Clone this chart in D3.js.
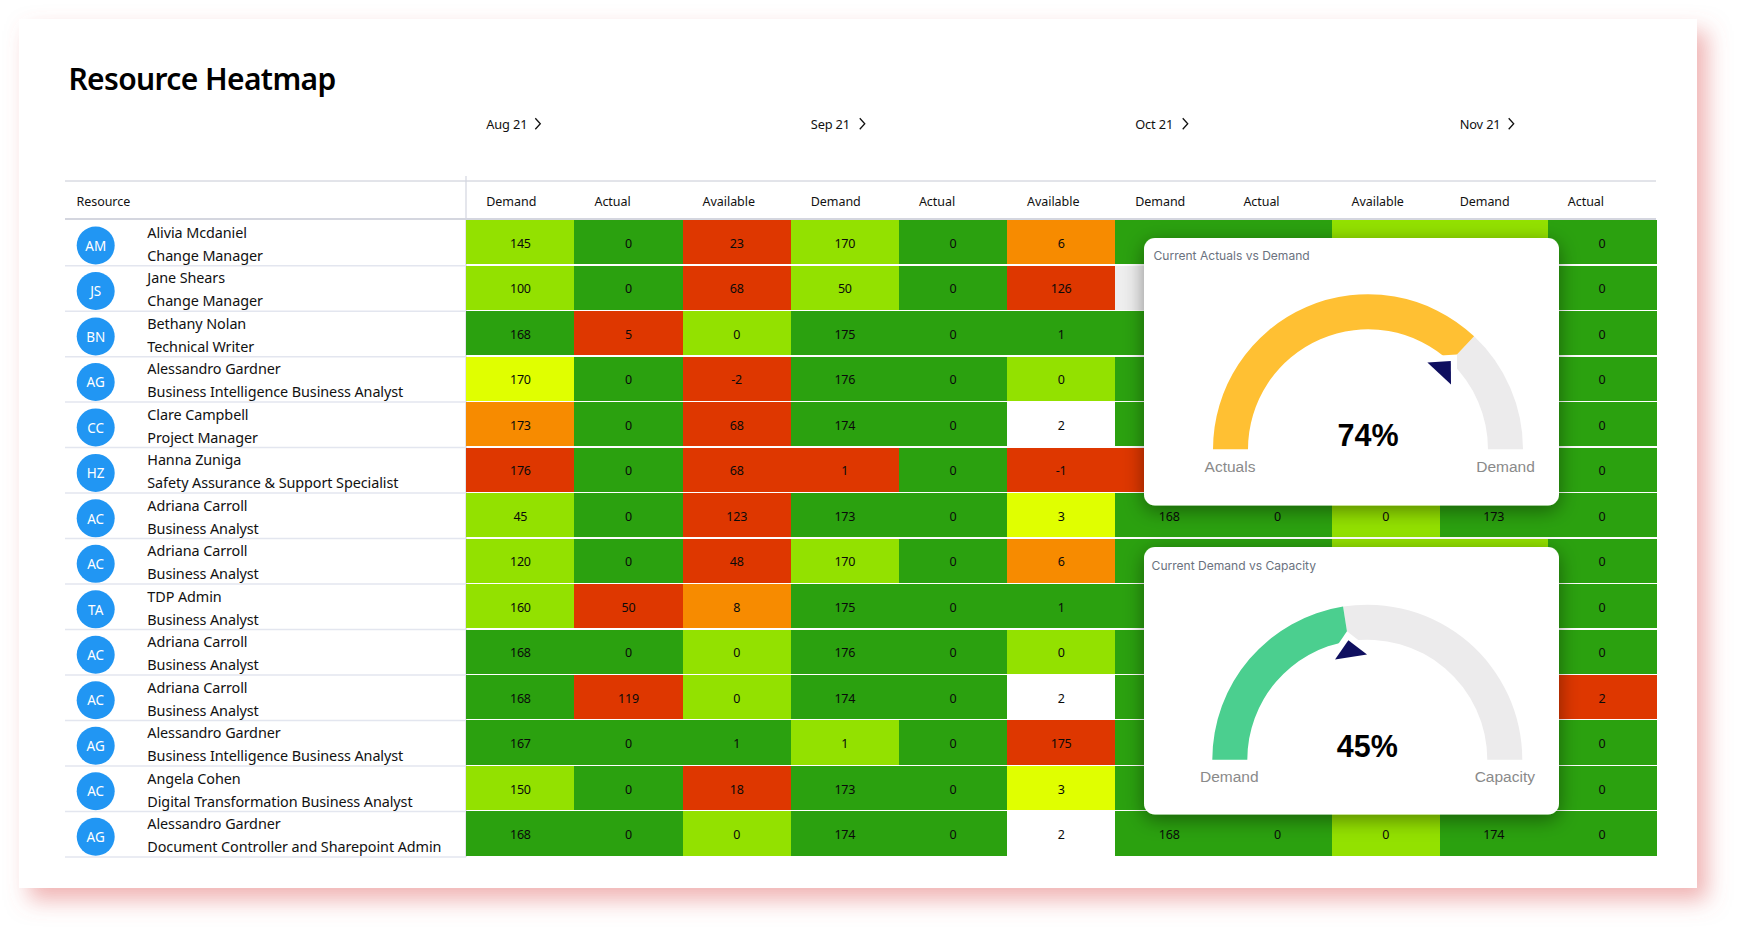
<!DOCTYPE html>
<html><head><meta charset="utf-8">
<script src="https://cdnjs.cloudflare.com/ajax/libs/d3/7.8.5/d3.min.js"></script>
<style>
html,body{margin:0;padding:0;background:#fff;overflow:hidden}
svg{display:block}
text{font-family:"Noto Sans",sans-serif;fill:#111}
.g text{font-family:"Liberation Sans",Arial,sans-serif}
</style></head><body>
<svg id="c" width="1742" height="932"></svg>
<script>
const chartTitle = "Resource Heatmap";
const monthLabels = ["Aug 21","Sep 21","Oct 21","Nov 21"];
const columnLabels = ["Demand","Actual","Available","Demand","Actual","Available","Demand","Actual","Available","Demand","Actual"];
const resourceNames = ["Alivia Mcdaniel","Jane Shears","Bethany Nolan","Alessandro Gardner","Clare Campbell","Hanna Zuniga","Adriana Carroll","Adriana Carroll","TDP Admin","Adriana Carroll","Adriana Carroll","Alessandro Gardner","Angela Cohen","Alessandro Gardner"];
const resourceRoles = ["Change Manager","Change Manager","Technical Writer","Business Intelligence Business Analyst","Project Manager","Safety Assurance & Support Specialist","Business Analyst","Business Analyst","Business Analyst","Business Analyst","Business Analyst","Business Intelligence Business Analyst","Digital Transformation Business Analyst","Document Controller and Sharepoint Admin"];
const resourceInitials = ["AM","JS","BN","AG","CC","HZ","AC","AC","TA","AC","AC","AG","AC","AG"];
// null = covered by a gauge card in the picture
const _ = null;
const cellValues = [
 [145,0,23,170,0,6,_,_,_,_,0],
 [100,0,68,50,0,126,_,_,_,_,0],
 [168,5,0,175,0,1,_,_,_,_,0],
 [170,0,-2,176,0,0,_,_,_,_,0],
 [173,0,68,174,0,2,_,_,_,_,0],
 [176,0,68,1,0,-1,_,_,_,_,0],
 [45,0,123,173,0,3,168,0,0,173,0],
 [120,0,48,170,0,6,_,_,_,_,0],
 [160,50,8,175,0,1,_,_,_,_,0],
 [168,0,0,176,0,0,_,_,_,_,0],
 [168,119,0,174,0,2,_,_,_,_,2],
 [167,0,1,1,0,175,_,_,_,_,0],
 [150,0,18,173,0,3,_,_,_,_,0],
 [168,0,0,174,0,2,168,0,0,174,0]
];
// status of each cell: g ok, l light, y caution, o warning, r over, w empty, n none
const cellStatus = [
 "lgrlgogglLg","lgrlgrngggg","grlgggggggg","ygrgglggggg","ogrggwggggg","rgrrgrrgggg",
 "lgrggygglgg","lgrlgogglLg","lrogggggggg","gglgglggggg","grlggwggggr","ggglgrggggg",
 "lgrggyggggg","gglggwgglgg"
];
const gauges = [
 {title:"Current Actuals vs Demand", value:74, left:"Actuals", right:"Demand", color:"#ffc033"},
 {title:"Current Demand vs Capacity", value:45, left:"Demand", right:"Capacity", color:"#4bcf8f"}
];

const svg = d3.select("#c");
const defs = svg.append("defs");
const f1 = defs.append("filter").attr("id","pageShadow").attr("x","-10%").attr("y","-10%").attr("width","120%").attr("height","125%");
f1.append("feDropShadow").attr("dx",10).attr("dy",12).attr("stdDeviation",11).attr("flood-color","#e06666").attr("flood-opacity",.5);
const f2 = defs.append("filter").attr("id","cardShadow").attr("x","-15%").attr("y","-15%").attr("width","130%").attr("height","130%");
f2.append("feDropShadow").attr("dx",0).attr("dy",5).attr("stdDeviation",10).attr("flood-color","#000").attr("flood-opacity",.42);

svg.append("rect").attr("x",19).attr("y",19).attr("width",1678).attr("height",869).attr("fill","#fff").attr("filter","url(#pageShadow)");

svg.append("text").attr("x",68.4).attr("y",90).attr("font-size",30).attr("font-weight",600).attr("letter-spacing",-.62).style("fill","#000").text(chartTitle);

const x = d3.scaleBand().domain(d3.range(columnLabels.length)).range([466.3,1656]);
const y = d3.scaleBand().domain(d3.range(resourceNames.length)).range([220.2,856.9]);
const color = d3.scaleOrdinal().domain(["g","l","L","y","o","r","w","n"])
  .range(["#2ba10f","#93e100","#93e100","#e0ff00","#f78b00","#de3700","#ffffff","#eeeeee"]);

// month headers
const month = svg.append("g").selectAll("g").data(monthLabels).join("g")
  .attr("transform",(d,i)=>`translate(${x(i*3)+20},128.7)`);
month.append("text").attr("font-size",12.8).attr("letter-spacing",-.15).text(d=>d);
month.append("path").attr("d",(d,i)=>{const o=[49,49,47.5,49][i];return `M${o},-10.5 L${o+5},-5 L${o},.5`;}).attr("fill","none").attr("stroke","#111").attr("stroke-width",1.3);

// header rules
const rule = "#c6c9d4";
svg.append("line").attr("x1",65).attr("x2",1656).attr("y1",181).attr("y2",181).attr("stroke",rule);
svg.append("line").attr("x1",65).attr("x2",1656).attr("y1",219).attr("y2",219).attr("stroke",rule).attr("stroke-width",1.6);
svg.append("line").attr("x1",466).attr("x2",466).attr("y1",176).attr("y2",857).attr("stroke","#d3d6df").attr("stroke-width",1.2);

svg.append("text").attr("x",76.5).attr("y",206).attr("font-size",12.5).attr("letter-spacing",-.05).text("Resource");
svg.append("g").selectAll("text").data(columnLabels).join("text")
  .attr("x",(d,i)=>x(i)+20).attr("y",206).attr("font-size",12.5).attr("letter-spacing",-.05).text(d=>d);

// rows
const rows = svg.append("g").selectAll("g").data(resourceNames).join("g")
  .attr("transform",(d,i)=>`translate(0,${y(i)})`);
const rh = y.bandwidth();
rows.append("line").attr("x1",65).attr("x2",466).attr("y1",rh).attr("y2",rh).attr("stroke","#e3e6ef").attr("stroke-width",1.5);
defs.selectAll("clipPath").data(resourceNames).join("clipPath").attr("id",(d,i)=>"rc"+i)
  .append("rect").attr("x",60).attr("y",0).attr("width",80).attr("height",rh-.6);
rows.append("g").attr("clip-path",(d,i)=>`url(#rc${i})`).append("circle")
  .attr("cx",95.7).attr("cy",25.3).attr("r",19).attr("fill","#2196f3");
rows.append("text").attr("x",95.7).attr("y",30.5).attr("text-anchor","middle").attr("font-size",13.5).style("fill","#fff").text((d,i)=>resourceInitials[i]);
rows.append("text").attr("x",147.3).attr("y",17.8).attr("font-size",14.4).attr("letter-spacing",-.08).text(d=>d);
rows.append("text").attr("x",147.3).attr("y",40.6).attr("font-size",14.4).attr("letter-spacing",-.08).text((d,i)=>resourceRoles[i]);

// heat cells
const cells = cellValues.flatMap((r,ri)=>r.map((v,ci)=>({ri,ci,v,s:cellStatus[ri][ci]})));
svg.append("g").attr("shape-rendering","crispEdges").selectAll("rect").data(cells).join("rect")
  .attr("x",d=>x(d.ci)).attr("y",d=>y(d.ri)).attr("width",x.bandwidth()+.5).attr("height",rh-1.2)
  .attr("fill",d=>color(d.s));
svg.append("g").selectAll("text").data(cells.filter(d=>d.v!==null)).join("text")
  .attr("x",d=>x(d.ci)+x.bandwidth()/2).attr("y",d=>y(d.ri)+27.8)
  .attr("text-anchor","middle").attr("font-size",12.5).attr("letter-spacing",-.2).style("fill","#0a0a0a").text(d=>d.v);

// gauge cards
const cardBox = {x:1144,w:415,h:267.5};
const cardTop = d3.scaleOrdinal().domain(gauges.map(g=>g.title)).range([238,547]);
const angle = d3.scaleLinear().domain([0,100]).range([-Math.PI/2,Math.PI/2]);
const polar = (cx,cy,r,a,off=0)=>[cx+r*Math.sin(a)+off*Math.cos(a), cy-r*Math.cos(a)+off*Math.sin(a)];
const arc = d3.arc().innerRadius(120).outerRadius(155);
const tri = d3.line();

const card = svg.append("g").attr("class","g").selectAll("g").data(gauges).join("g")
  .attr("transform",d=>`translate(${cardBox.x},${cardTop(d.title)})`);
card.append("rect").attr("width",cardBox.w).attr("height",cardBox.h).attr("rx",11).attr("fill","#fff").attr("filter","url(#cardShadow)");
card.append("text").attr("x",(d,i)=>i?7.6:9.5).attr("y",(d,i)=>i?23:22).attr("font-size",12.05).style("font-family","Inter,sans-serif").style("fill","#6b7280").text(d=>d.title);
const gc = {x:(d,i)=>i?223.3:224,y:(d,i)=>i?212.7:211.3};
const gg = card.append("g").attr("transform",(d,i)=>`translate(${gc.x(d,i)},${gc.y(d,i)})`);
gg.append("path").attr("fill","#ecebec").attr("d",d=>arc({startAngle:angle(d.value),endAngle:angle(100)}));
gg.append("path").attr("fill",d=>d.color).attr("d",d=>arc({startAngle:angle(0),endAngle:angle(d.value)}));
gg.append("path").attr("fill","#fff").attr("d",d=>{const a=angle(d.value);
  return tri([polar(0,0,130,a),polar(0,0,112,a,-17),polar(0,0,112,a,17)])+"Z";});
gg.append("path").attr("fill","#0f0f5f").attr("d",d=>{const a=angle(d.value);
  return tri([polar(0,0,121,a),polar(0,0,104,a,-16.2),polar(0,0,104,a,16.2)])+"Z";});
gg.append("text").attr("y",-3).attr("text-anchor","middle").attr("font-size",30.5).attr("font-weight",700).style("fill","#000").text(d=>d.value+"%");
gg.append("text").attr("x",-138).attr("y",22.5).attr("text-anchor","middle").attr("font-size",15.5).style("fill","#8a8a8a").text(d=>d.left);
gg.append("text").attr("x",137.5).attr("y",22.5).attr("text-anchor","middle").attr("font-size",15.5).style("fill","#8a8a8a").text(d=>d.right);
</script></body></html>
